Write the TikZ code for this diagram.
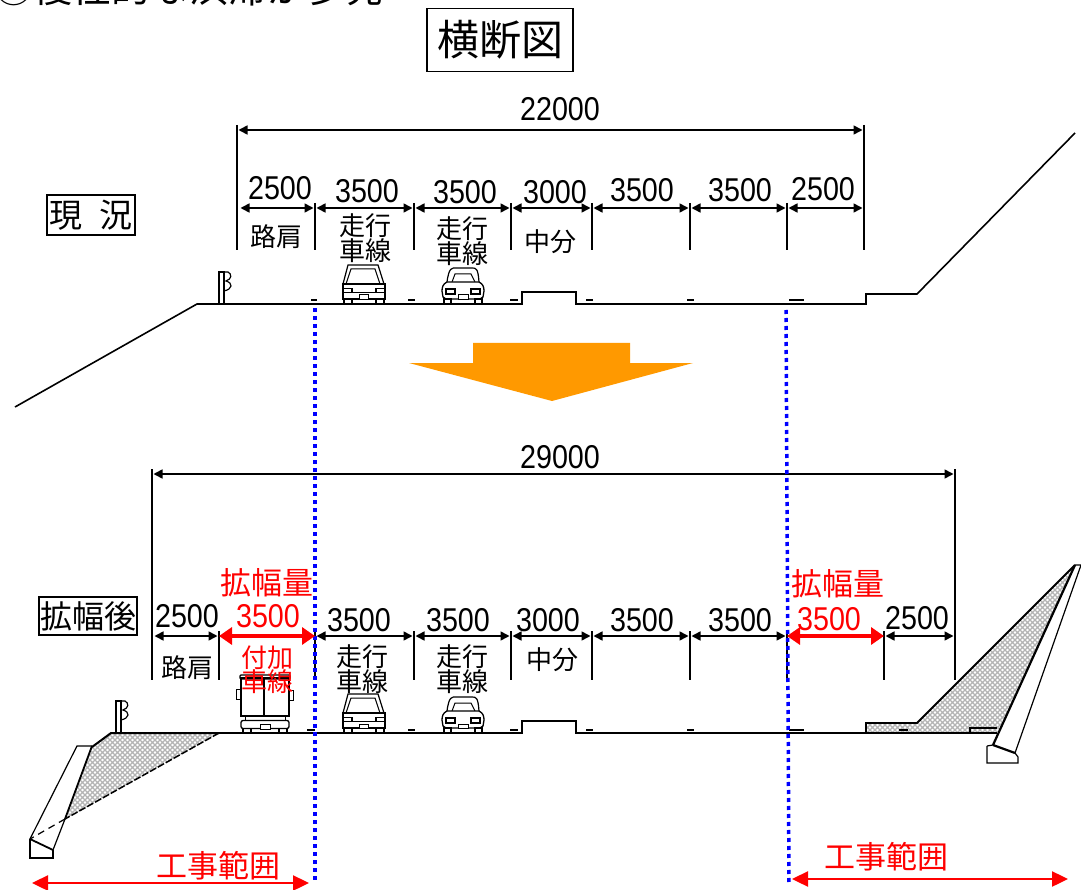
\documentclass[tikz,border=0pt]{standalone}
\usepackage{fontspec}
\setmainfont{Liberation Sans}
\newfontfamily\cjk{Noto Sans CJK JP}
\newfontfamily\numfont[FakeStretch=0.87]{Liberation Sans}
\usetikzlibrary{arrows.meta,patterns}

\newcommand{\fsz}[1]{\fontsize{#1}{#1}\selectfont}
\definecolor{arroworange}{HTML}{FF9900}
\definecolor{fillgray}{HTML}{B4B4B4}

\pgfdeclarepatternformonly{fillcheck}{\pgfqpoint{-1pt}{-1pt}}{\pgfqpoint{6pt}{6pt}}{\pgfqpoint{5pt}{5pt}}{
  \pgfsetlinewidth{1.1pt}
  \pgfpathmoveto{\pgfqpoint{0pt}{0pt}}
  \pgfpathlineto{\pgfqpoint{5pt}{5pt}}
  \pgfpathmoveto{\pgfqpoint{0pt}{5pt}}
  \pgfpathlineto{\pgfqpoint{5pt}{0pt}}
  \pgfusepath{stroke}
}

\tikzset{
  dim/.style={draw=black,line width=1.6pt,{Triangle[length=9pt,width=9pt]}-{Triangle[length=9pt,width=9pt]},shorten <=1.5pt,shorten >=1.5pt},
  reddim/.style={draw=red,line width=4.5pt,{Triangle[length=13pt,width=17pt]}-{Triangle[length=13pt,width=17pt]}},
  redspan/.style={draw=red,line width=2.4pt,{Triangle[length=16pt,width=15pt]}-{Triangle[length=16pt,width=15pt]}},
  blueline/.style={draw=blue,line width=3.5pt,dash pattern=on 4pt off 4pt},
  orangearrow/.style={fill=arroworange,draw=none},
  numlabel/.style={inner sep=0pt,font=\numfont\fsz{33}},
  lanelabel/.style={inner sep=0pt,align=center,font=\cjk\fontsize{26}{23}\selectfont},
  boxlabel/.style={draw,line width=1.5pt,inner sep=0pt,font=\cjk},
  redlabel/.style={inner sep=0pt,text=red,font=\cjk\fsz{31}},
  hatched/.style={pattern=fillcheck,pattern color=fillgray},
  van/.pic={
    \draw[line width=1.2pt] (-21,-20) -- (-16,-39) -- (14,-39) -- (20,-20);
    \draw[line width=1pt] (-18,-20) -- (-13,-35) -- (11,-35) -- (16,-20);
    \draw[line width=1.3pt,fill=white] (-21,-20) rectangle (21,-5);
    \draw[line width=1.2pt] (-21,-15.5) rectangle (-12,-11.5);
    \draw[line width=1.2pt] (12,-15.5) rectangle (21,-11.5);
    \draw[line width=1.2pt] (-12,-11.5) -- (12,-11.5);
    \draw[line width=1pt,fill=white] (-5,-9) rectangle (4,-4.5);
    \draw[line width=1.2pt] (-20,-5) rectangle (-12,0);
    \draw[line width=1.2pt] (12,-5) rectangle (20,0);
  },
  sedan/.pic={
    \draw[line width=1.2pt] (-16,-22) .. controls (-14,-37) and (-11,-36) .. (-7,-36) -- (9,-36) .. controls (13,-36) and (15,-36) .. (16,-22);
    \draw[line width=1pt] (-11,-22) -- (-8,-30) -- (8,-30) -- (12,-22);
    \draw[line width=1.3pt,fill=white] (-16,-22) .. controls (-20,-20) and (-21,-17) .. (-21,-13) -- (-20,-7) -- (-17,-5) -- (17,-5) -- (20,-7) -- (21,-13) .. controls (21,-17) and (20,-20) .. (16,-22) -- cycle;
    \draw[line width=1.2pt] (-17,-15) rectangle (-8,-10);
    \draw[line width=1.2pt] (8,-15) rectangle (17,-10);
    \draw[line width=1pt,fill=white] (-5,-9) rectangle (5,-4.5);
    \draw[line width=1.2pt] (-19,-5) rectangle (-12,0);
    \draw[line width=1.2pt] (12,-5) rectangle (19,0);
  },
  truck/.pic={
    \draw[line width=1.3pt] (-24,-55) rectangle (24,-17);
    \draw[line width=1.2pt,rounded corners=1pt] (-25,-58) rectangle (25,-54);
    \draw[line width=1.2pt] (-1,-55) -- (-1,-17);
    \draw[line width=1pt] (-29,-44) rectangle (-24,-34);
    \draw[line width=1pt] (23,-43) rectangle (28,-33);
    \draw[line width=1pt] (-20,-17) -- (-20,-12.5) (20,-17) -- (20,-12.5);
    \draw[line width=1.3pt,rounded corners=2pt] (-24,-12.5) rectangle (24,-4.5);
    \draw[line width=1pt,fill=white] (-5,-9) rectangle (5,-3.5);
    \draw[line width=1.2pt] (-22,-4.5) rectangle (-14,0);
    \draw[line width=1.2pt] (14,-4.5) rectangle (22,0);
  },
  railpost/.pic={
    \draw[line width=1.2pt] (0,0) -- (0,-32) -- (5,-32) -- (5,0);
    \draw[line width=1.2pt] (5,-32) -- (9,-32) .. controls (13,-30) and (13,-25) .. (7,-23) .. controls (14,-21) and (14,-15) .. (5,-13);
  }
}

\begin{document}
\begin{tikzpicture}[x=1pt,y=-1pt]
  \useasboundingbox (0,0) rectangle (1081,890);

  % tops and bottoms of the dimension ticks
  \coordinate (uppertop) at (0,203);
  \coordinate (upperlow) at (0,250);
  \coordinate (lowertop) at (0,631);
  \coordinate (lowerlow) at (0,680);

  % upper section
  \coordinate (uspanl) at (237,130);
  \coordinate (uspanr) at (864,130);
  \coordinate (uspanlt) at (237,125);
  \coordinate (uspanrt) at (864,125);
  \coordinate (ua0) at (239,208);
  \coordinate (ua1) at (315,208);
  \coordinate (ua2) at (414,208);
  \coordinate (ua3) at (511,208);
  \coordinate (ua4) at (592,208);
  \coordinate (ua5) at (690,208);
  \coordinate (ua6) at (787,208);
  \coordinate (ua7) at (864,208);

  \path (uspanl) edge[dim] (uspanr);
  \draw[line width=1.6pt] (uspanlt) -- (uspanlt |- upperlow);
  \draw[line width=1.6pt] (uspanrt) -- (uspanrt |- upperlow);
  \draw[line width=1.6pt] (ua1 |- uppertop) -- (ua1 |- upperlow);
  \draw[line width=1.6pt] (ua2 |- uppertop) -- (ua2 |- upperlow);
  \draw[line width=1.6pt] (ua3 |- uppertop) -- (ua3 |- upperlow);
  \draw[line width=1.6pt] (ua4 |- uppertop) -- (ua4 |- upperlow);
  \draw[line width=1.6pt] (ua5 |- uppertop) -- (ua5 |- upperlow);
  \draw[line width=1.6pt] (ua6 |- uppertop) -- (ua6 |- upperlow);

  \path (ua0) edge[dim] (ua1);
  \path (ua1) edge[dim] (ua2);
  \path (ua2) edge[dim] (ua3);
  \path (ua3) edge[dim] (ua4);
  \path (ua4) edge[dim] (ua5);
  \path (ua5) edge[dim] (ua6);
  \path (ua6) edge[dim] (ua7);

  \begin{scope}[every node/.style={numlabel}]
    \node (uwidth) at (560,109) {22000};
    \node (ud1) at (280,188) {2500};
    \node (ud2) at (367,191) {3500};
    \node (ud3) at (465,192) {3500};
    \node (ud4) at (555,192) {3000};
    \node (ud5) at (642,190) {3500};
    \node (ud6) at (740,190) {3500};
    \node (ud7) at (823,189) {2500};
  \end{scope}

  \begin{scope}[every node/.style={lanelabel}]
    \node (ushoulder) at (276,237) {路肩};
    \node (ulane1) at (365,238) {走行\\車線};
    \node (ulane2) at (462,241) {走行\\車線};
    \node (umedian) at (550,242) {中分};
  \end{scope}

  % upper road
  \coordinate (uslope) at (15,407);
  \coordinate (uedge) at (197,304);
  \coordinate (umedl) at (522,304);
  \coordinate (umedr) at (576,304);
  \coordinate (ustep) at (866,304);
  \coordinate (ucut) at (1075,133);
  \draw[line width=1.6pt] (uslope) -- (uedge) -- (umedl) -- (522,292) -- (576,292) -- (umedr) -- (ustep) -- (866,294) -- (917,294) -- (ucut);
  \draw[line width=2pt] (311,300) -- (317,300) (408,300) -- (415,300) (510,300) -- (518,300) (586,300) -- (593,300) (687,300) -- (694,300) (789,300) -- (804,300);
  \pic at (219,304) {railpost};
  \pic at (364,304) {van};
  \pic at (463,304) {sedan};

  % transition arrow
  \path[orangearrow] (473,343) -- (630,343) -- (630,363) -- (693,363) -- (552,401) -- (409,363) -- (473,363) -- cycle;

  % lower section
  \coordinate (lspanl) at (152,474);
  \coordinate (lspanr) at (955,474);
  \coordinate (lspanlt) at (152,469);
  \coordinate (lspanrt) at (955,469);
  \coordinate (la0) at (153,636);
  \coordinate (la1) at (219,636);
  \coordinate (la2) at (315,636);
  \coordinate (la3) at (414,636);
  \coordinate (la4) at (511,636);
  \coordinate (la5) at (592,636);
  \coordinate (la6) at (690,636);
  \coordinate (la7) at (787,636);
  \coordinate (la8) at (884,636);
  \coordinate (la9) at (955,636);

  \path (lspanl) edge[dim] (lspanr);
  \draw[line width=1.6pt] (lspanlt) -- (lspanlt |- lowerlow);
  \draw[line width=1.6pt] (lspanrt) -- (lspanrt |- lowerlow);
  \draw[line width=1.6pt] (la1 |- lowertop) -- (la1 |- lowerlow);
  \draw[line width=1.6pt] (la2 |- lowertop) -- (la2 |- lowerlow);
  \draw[line width=1.6pt] (la3 |- lowertop) -- (la3 |- lowerlow);
  \draw[line width=1.6pt] (la4 |- lowertop) -- (la4 |- lowerlow);
  \draw[line width=1.6pt] (la5 |- lowertop) -- (la5 |- lowerlow);
  \draw[line width=1.6pt] (la6 |- lowertop) -- (la6 |- lowerlow);
  \draw[line width=1.6pt] (la7 |- lowertop) -- (la7 |- lowerlow);
  \draw[line width=1.6pt] (la8 |- lowertop) -- (la8 |- lowerlow);

  \path (la0) edge[dim] (la1);
  \path (la2) edge[dim] (la3);
  \path (la3) edge[dim] (la4);
  \path (la4) edge[dim] (la5);
  \path (la5) edge[dim] (la6);
  \path (la6) edge[dim] (la7);
  \path (la8) edge[dim] (la9);

  \begin{scope}[every node/.style={numlabel}]
    \node (lwidth) at (560,457) {29000};
    \node (ld1) at (187,616) {2500};
    \node (ld3) at (359,620) {3500};
    \node (ld4) at (458,620) {3500};
    \node (ld5) at (548,620) {3000};
    \node (ld6) at (642,620) {3500};
    \node (ld7) at (740,620) {3500};
    \node (ld9) at (917,618) {2500};
  \end{scope}

  \begin{scope}[every node/.style={lanelabel}]
    \node (lshoulder) at (187,668) {路肩};
    \node (llane1) at (362,669) {走行\\車線};
    \node (llane2) at (462,669) {走行\\車線};
    \node (lmedian) at (552,660) {中分};
  \end{scope}

  % lower road
  \coordinate (lfilla) at (111,733);
  \coordinate (lfillb) at (219,733);
  \coordinate (lfillc) at (65,819);
  \coordinate (lfilld) at (92,747);
  \coordinate (lmedl) at (522,733);
  \coordinate (lmedr) at (576,733);
  \coordinate (rfilla) at (866,733);
  \coordinate (rfillb) at (866,723);
  \coordinate (rfillc) at (917,723);
  \coordinate (rfilld) at (1075,565);
  \coordinate (rfille) at (997,733);

  \path[hatched] (lfilla) -- (lfillb) -- (lfillc) -- (lfilld) -- cycle;
  \path[hatched] (rfilla) -- (rfillb) -- (rfillc) -- (rfilld) -- (rfille) -- cycle;
  \draw[line width=2pt] (lfilld) -- (lfilla) -- (lfillb);
  \draw[line width=1.5pt,dash pattern=on 7pt off 2pt] (lfillb) -- (lfillc);
  \draw[line width=1.2pt,dash pattern=on 7pt off 5pt] (lfillc) -- (30,839);
  \draw[line width=1.6pt] (lfillb) -- (lmedl) -- (522,721) -- (576,721) -- (lmedr) -- (rfilla);
  \draw[line width=1.6pt] (rfilla) -- (rfille);
  \draw[line width=1.8pt] (rfilla) -- (rfillb) -- (rfillc) -- (rfilld);
  \draw[line width=1.2pt] (970,733) -- (970,728) -- (997,728);
  \draw[line width=2pt] (307,730) -- (315,730) (408,730) -- (415,730) (510,730) -- (518,730) (586,730) -- (593,730) (687,730) -- (694,730) (789,730) -- (804,730) (899,730) -- (908,730);

  % left wall
  \coordinate (lwalla) at (77,746);
  \coordinate (lwallb) at (92,746);
  \coordinate (lwallc) at (53,850);
  \coordinate (lwalld) at (30,839);
  \draw[line width=1.2pt] (lwalld) -- (lwalla) -- (lwallb);
  \draw[line width=1.8pt] (lwallb) -- (65,819);
  \draw[line width=1.2pt] (65,819) -- (lwallc);
  \draw[line width=1.8pt] (lwalld) -- (lwallc);
  \draw[line width=1.2pt] (lwalld) -- (30,858) -- (53,858) -- (lwallc);

  % right wall
  \coordinate (rwalla) at (1075,565);
  \coordinate (rwallb) at (1081,565);
  \coordinate (rwallc) at (1015,753);
  \coordinate (rwalld) at (993,745);
  \draw[line width=2.2pt] (rwalla) -- (rwalld);
  \draw[line width=1.2pt] (rwalla) -- (rwallb) -- (rwallc);
  \draw[line width=2.2pt] (rwalld) -- (rwallc);
  \draw[line width=1.2pt] (987,746) -- (rwalld);
  \draw[line width=1.2pt] (987,746) -- (987,763) -- (1018,763) -- (1018,757) -- (rwallc);

  \pic at (116,733) {railpost};
  \pic at (265,733) {truck};
  \pic at (364,733) {van};
  \pic at (463,733) {sedan};

  % blue limits of the works
  \coordinate (bluela) at (315,308);
  \coordinate (bluelb) at (315,883);
  \coordinate (bluera) at (786,310);
  \coordinate (bluerb) at (789,885);
  \path (bluela) edge[blueline] (bluelb);
  \path (bluera) edge[blueline] (bluerb);

  % widening dimensions
  \path (la1) edge[reddim] (la2);
  \path (la7) edge[reddim] (la8);
  \coordinate (spanla) at (32,883);
  \coordinate (spanlb) at (309,883);
  \coordinate (spanra) at (792,879);
  \coordinate (spanrb) at (1068,879);
  \path (spanla) edge[redspan] (spanlb);
  \path (spanra) edge[redspan] (spanrb);

  \begin{scope}[every node/.style={redlabel}]
    \node (wideleft) at (267,583) {拡幅量};
    \node (wideright) at (838,584) {拡幅量};
    \node (worksleft) at (218,866) {工事範囲};
    \node (worksright) at (886,857) {工事範囲};
    \node[font=\numfont\fsz{33}] (ld2) at (268,616) {3500};
    \node[font=\numfont\fsz{33}] (ld8) at (829,619) {3500};
    \node[font=\cjk\fontsize{26}{24}\selectfont,align=center] (addlane) at (267,670) {付加\\車線};
  \end{scope}

  % boxed titles and the cut-off heading
  \node[boxlabel,minimum width=146pt,minimum height=63pt,font=\cjk\fsz{42}] (title) at (500,40) {横断図};
  \node[boxlabel,minimum width=88pt,minimum height=40pt,font=\cjk\fsz{33}] (current) at (91,215) {現\hspace{18pt}況};
  \node[boxlabel,minimum width=98pt,minimum height=38pt,font=\cjk\fsz{32}] (widened) at (88,616) {拡幅後};
  \node[inner sep=0pt,anchor=base west,font=\cjk\fsz{39}] (heading) at (-6,3) {③慢性的な渋滞が多発};
\end{tikzpicture}
\end{document}
